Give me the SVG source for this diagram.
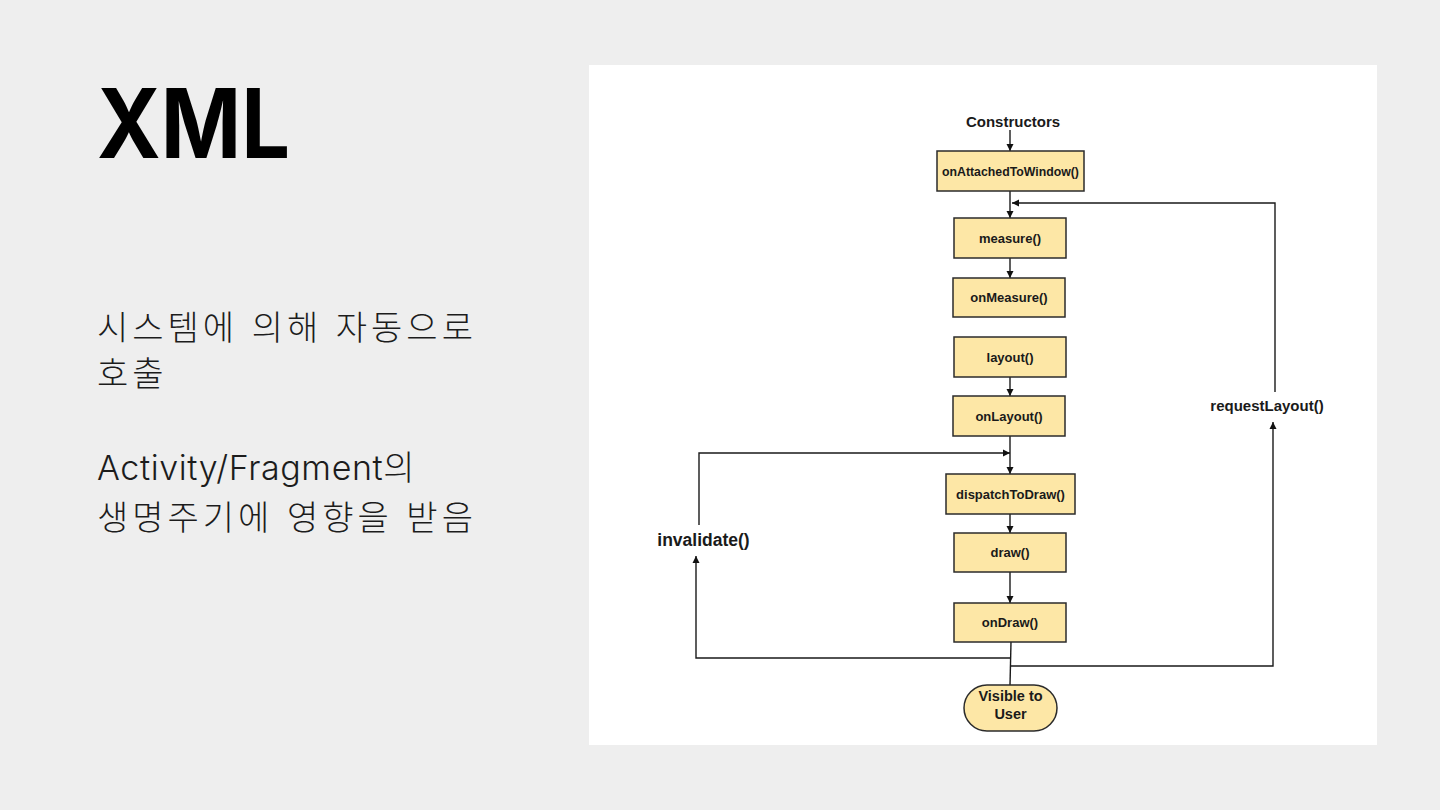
<svg xmlns="http://www.w3.org/2000/svg" width="1440" height="810" viewBox="0 0 1440 810">
<defs>
<style>
.box{fill:#fde7a6;stroke:#2b2b2b;stroke-width:1.5}
.lbl{font-family:"Liberation Sans",Arial,sans-serif;font-weight:bold;fill:#1a1a1a;text-anchor:middle}
.bl{font-size:13px}
.ln{fill:none;stroke:#1a1a1a;stroke-width:1.4}
.ko{font-family:Inter,"Noto Sans CJK KR",sans-serif;font-size:34px;font-weight:300;fill:#1c1c1c}
</style>
<marker id="ah" viewBox="0 0 10 10" refX="10" refY="5" markerWidth="7" markerHeight="8" markerUnits="userSpaceOnUse" orient="auto">
<path d="M0,0 L10,5 L0,10 z" fill="#111"/>
</marker>
</defs>
<rect width="1440" height="810" fill="#eeeeee"/>
<text x="97" y="158" font-family="Inter,'Liberation Sans',sans-serif" font-weight="bold" font-size="96" fill="#000" textLength="193" lengthAdjust="spacingAndGlyphs">XML</text>
<g id="desc">
<text class="ko" x="97" y="340" letter-spacing="4">시스템에 의해 자동으로</text>
<text class="ko" x="97" y="386" letter-spacing="4">호출</text>
<text class="ko" x="97" y="480" letter-spacing="0.6">Activity/Fragment의</text>
<text class="ko" x="97" y="530" letter-spacing="4">생명주기에 영향을 받음</text>
</g>
<rect x="589" y="65" width="788" height="680" fill="#ffffff"/>
<g id="connectors">
<line class="ln" x1="1010" y1="130" x2="1010" y2="151" marker-end="url(#ah)"/>
<line class="ln" x1="1010" y1="191" x2="1010" y2="218" marker-end="url(#ah)"/>
<line class="ln" x1="1010" y1="258" x2="1010" y2="278" marker-end="url(#ah)"/>
<line class="ln" x1="1010" y1="377" x2="1010" y2="396" marker-end="url(#ah)"/>
<line class="ln" x1="1010" y1="436" x2="1010" y2="474" marker-end="url(#ah)"/>
<line class="ln" x1="1010" y1="514" x2="1010" y2="533" marker-end="url(#ah)"/>
<line class="ln" x1="1010" y1="572" x2="1010" y2="603" marker-end="url(#ah)"/>
<line class="ln" x1="1011" y1="642" x2="1010" y2="685"/>
<path class="ln" d="M1011,658 H696 V556" marker-end="url(#ah)"/>
<path class="ln" d="M699,525 V453 H1010" marker-end="url(#ah)"/>
<path class="ln" d="M1011,666 H1273 V422" marker-end="url(#ah)"/>
<path class="ln" d="M1275,392 V203 H1012" marker-end="url(#ah)"/>
</g>
<g id="constructors"><text class="lbl" x="1013" y="127" font-size="15">Constructors</text></g>
<g id="onAttachedToWindow"><rect class="box" x="937" y="151" width="147" height="40"/><text class="lbl" x="1010.5" y="175.5" font-size="12.3">onAttachedToWindow()</text></g>
<g id="measure"><rect class="box" x="954" y="218" width="112" height="40"/><text class="lbl bl" x="1010" y="242.5">measure()</text></g>
<g id="onMeasure"><rect class="box" x="953" y="278" width="112" height="39"/><text class="lbl bl" x="1009" y="301.5">onMeasure()</text></g>
<g id="layout"><rect class="box" x="954" y="337" width="112" height="40"/><text class="lbl bl" x="1010" y="361.5">layout()</text></g>
<g id="onLayout"><rect class="box" x="953" y="396" width="112" height="40"/><text class="lbl bl" x="1009" y="420.5">onLayout()</text></g>
<g id="dispatchToDraw"><rect class="box" x="946" y="474" width="129" height="40"/><text class="lbl bl" x="1010.5" y="498.5">dispatchToDraw()</text></g>
<g id="draw"><rect class="box" x="954" y="533" width="112" height="39"/><text class="lbl bl" x="1010" y="556.5">draw()</text></g>
<g id="onDraw"><rect class="box" x="954" y="603" width="112" height="39"/><text class="lbl bl" x="1010" y="626.5">onDraw()</text></g>
<g id="visible"><rect class="box" x="964" y="685" width="93" height="46" rx="23" ry="23"/><text class="lbl" x="1010.5" y="701" font-size="14.5">Visible to</text><text class="lbl" x="1010.5" y="719" font-size="14.5">User</text></g>
<g id="invalidate"><text class="lbl" x="703.5" y="546" font-size="17.5">invalidate()</text></g>
<g id="requestLayout"><text class="lbl" x="1267" y="411" font-size="15">requestLayout()</text></g>
</svg>
